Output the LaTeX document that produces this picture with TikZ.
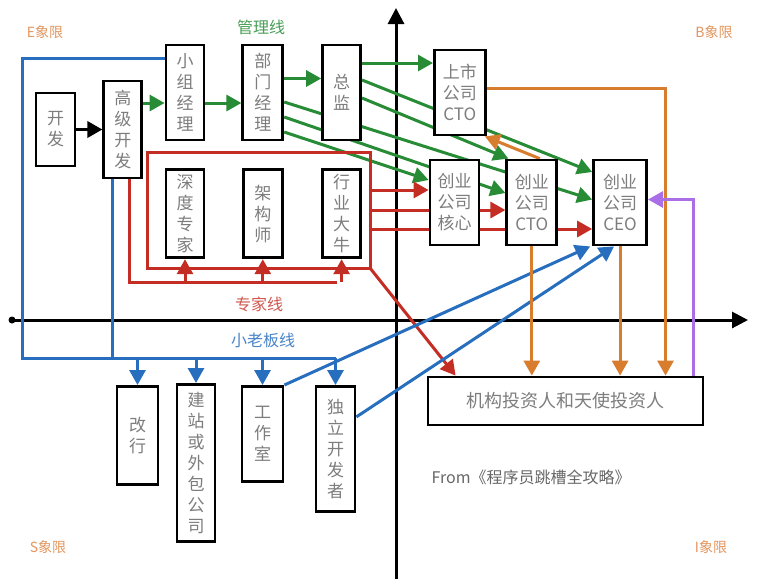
\documentclass[tikz,border=0pt]{standalone}
\usepackage{fontspec}
\newfontfamily\cjk{Noto Sans CJK SC}
\usepackage{tikz}
\usetikzlibrary{arrows.meta,positioning,calc}
\definecolor{mgreen}{RGB}{40,140,55}
\definecolor{xred}{RGB}{195,45,35}
\definecolor{bblue}{RGB}{40,110,190}
\definecolor{iorange}{RGB}{215,125,45}
\definecolor{vpurple}{RGB}{170,110,230}
\definecolor{qtan}{RGB}{225,150,95}
\definecolor{boxtext}{RGB}{125,125,125}
\pgfdeclarelayer{axes}
\pgfdeclarelayer{links}
\pgfsetlayers{axes,links,main}
\tikzset{
  >=Triangle,
  every node/.append style={font=\cjk},
}
\tikzset{
  box/.style={draw, fill=white, line width=2.8pt, align=center, inner sep=0pt,
              text=boxtext, font=\cjk\fontsize{17}{21}\selectfont},
  wire/.style={line width=3pt},
  arrow/.style={-{Triangle[length=15pt,width=16pt]}, line width=3pt}
}

\begin{document}
\begin{tikzpicture}[
  x=1pt, y=-1pt,
  cMgmt/.style  ={draw=mgreen, color=mgreen},
  cExpert/.style={draw=xred, color=xred},
  cBoss/.style  ={draw=bblue, color=bblue},
  cInv/.style   ={draw=iorange, color=iorange},
  cBack/.style  ={draw=vpurple, color=vpurple},
  axis/.style   ={-{Triangle[length=16pt,width=16pt]}, line width=3pt},
  quad/.style   ={text=qtan, font=\cjk\fontsize{14}{16}\selectfont},
  tag/.style    ={font=\cjk\fontsize{16}{18}\selectfont}
]
\useasboundingbox (0,0) rectangle (760,579);

% left: developer and management / expert ladders
\node[box, minimum width=39pt, minimum height=73pt] (kf) at (55.5,129.5) {开\\发};
\node[box, minimum width=38pt, minimum height=97pt, right=26pt of kf] (gjkf) {高\\级\\开\\发};
\node[box, minimum width=38pt, minimum height=95pt] (xzjl) at (185,92.5) {小\\组\\经\\理};
\node[box, minimum width=40pt, minimum height=95pt, right=36pt of xzjl] (bmjl) {部\\门\\经\\理};
\node[box, minimum width=38pt, minimum height=95pt, right=37pt of bmjl] (zj) {总\\监};
\node[box, minimum width=38pt, minimum height=88pt, below=27pt of xzjl] (sdzj) {深\\度\\专\\家};
\node[box, minimum width=39pt, minimum height=88pt, below=27pt of bmjl] (jgs) {架\\构\\师};
\node[box, minimum width=38pt, minimum height=88pt, below=27pt of zj] (hydn) {行\\业\\大\\牛};

% right: companies and investors
\node[box, minimum width=51pt, minimum height=85pt, right=71pt of zj] (sscto) {上市\\公司\\CTO};
\node[box, minimum width=49pt, minimum height=85pt] (cyhx) at (454.5,202.5) {创业\\公司\\核心};
\node[box, minimum width=50pt, minimum height=85pt, right=25pt of cyhx] (cycto) {创业\\公司\\CTO};
\node[box, minimum width=53pt, minimum height=85pt, right=34pt of cycto] (cyceo) {创业\\公司\\CEO};
\node[box, minimum width=275pt, minimum height=48pt, font=\cjk\fontsize{18}{20}\selectfont]
  (tzr) at (565.5,401) {机构投资人和天使投资人};

% bottom: own business
\node[box, minimum width=41pt, minimum height=98pt, anchor=north]  (gh)  at (137.5,385) {改\\行};
\node[box, minimum width=38pt, minimum height=157pt, anchor=north] (jz)  at (196,383)   {建\\站\\或\\外\\包\\公\\司};
\node[box, minimum width=41pt, minimum height=95pt, anchor=north]  (gzs) at (262.5,385) {工\\作\\室};
\node[box, minimum width=39pt, minimum height=125pt, anchor=north] (dl)  at (335.5,385) {独\\立\\开\\发\\者};

% labels
\node[quad] (eq) at (45,32)  {E象限};
\node[quad] (bq) at (714,32) {B象限};
\node[quad] (sq) at (48,547) {S象限};
\node[quad] (iq) at (711,547) {I象限};
\node[tag, text=mgreen!85!white] (glx)  at (261,27)  {管理线};
\node[tag, text=xred!80!white]   (zjx)  at (259,304) {专家线};
\node[tag, text=bblue!85!white]  (xlbx) at (263,340) {小老板线};
\node[tag, text=black!60, anchor=west] (src) at (428,477) {From《程序员跳槽全攻略》};

% axes
\begin{pgfonlayer}{axes}
\coordinate (xo) at (12,320);
\coordinate (xe) at (748,320);
\coordinate (yo) at (396,579);
\coordinate (ye) at (396,8);
\draw[axis] (xo) -- (xe);
\fill (xo) circle (3.5pt);
\draw[axis] (yo) -- (ye);
\end{pgfonlayer}

\begin{pgfonlayer}{links}
\draw[arrow, line width=3.4pt] (kf) -- (gjkf);

% management line
\draw[arrow, cMgmt] ([yshift=26.5pt]gjkf.east) -- ([yshift=-10.5pt]xzjl.west);
\draw[arrow, cMgmt] ([yshift=-10.5pt]xzjl.east) -- ([yshift=-10.5pt]bmjl.west);
\draw[arrow, cMgmt] ([yshift=14pt]bmjl.east) -- ([yshift=14pt]zj.west);
\draw[arrow, cMgmt] ([yshift=29.5pt]zj.east) -- ([yshift=29.5pt]sscto.west);
\draw[arrow, cMgmt] ([yshift=12.5pt]zj.east) -- ([yshift=30.5pt]cyceo.west);
\draw[arrow, cMgmt] ([yshift=-5.5pt]zj.east) -- ([xshift=3pt]cycto.north west);
\draw[arrow, cMgmt] ([yshift=-9.5pt]bmjl.east) -- ([yshift=3pt]cyceo.west);
\draw[arrow, cMgmt] ([yshift=-24.5pt]bmjl.east) -- ([yshift=9.5pt]cycto.west);
\draw[arrow, cMgmt] ([yshift=-39.5pt]bmjl.east) -- ([yshift=22.5pt]cyhx.west);

% expert line
\coordinate (rtl) at (147,152);
\coordinate (rtr) at (370,152);
\coordinate (rbr) at (370,268);
\coordinate (rbl) at (147,268);
\coordinate (rlow) at (337,282);
\draw[wire, cExpert] (rtl) -- (rtr) -- (rbr) -- (rbl) -- cycle;
\draw[wire, cExpert] ([xshift=7pt]gjkf.south) |- (rlow);
\foreach \b in {sdzj,jgs,hydn}{
  \draw[arrow, cExpert] (\b.south |- rlow) -- (\b.south);
}
\coordinate (r1) at (370,190);
\coordinate (r2) at (370,210);
\coordinate (r3) at (370,229);
\draw[arrow, cExpert] (r1) -- (r1 -| cyhx.west);
\draw[arrow, cExpert] (r2) -- (r2 -| cycto.west);
\draw[arrow, cExpert] (r3) -- (r3 -| cyceo.west);
\draw[arrow, cExpert] (rbr) -- ([xshift=29pt]tzr.north west);

% small boss line
\coordinate (bbl) at (22,358);
\coordinate (bsj) at (112,358);
\draw[wire, cBoss] ([yshift=34.5pt]xzjl.west) -| (bbl) -- (dl.north |- bbl);
\draw[wire, cBoss] (gjkf.south -| bsj) -- (bsj);
\foreach \b in {gh,jz,gzs,dl}{
  \draw[arrow, cBoss] (\b.north |- bbl) -- (\b.north);
}
\draw[arrow, cBoss] (gzs.north east) -- ([xshift=-2pt]cyceo.south west);
\draw[arrow, cBoss] ([yshift=32pt]dl.east) -- ([xshift=-6pt]cyceo.south);

% investors
\draw[arrow, cInv] ([yshift=4.5pt]sscto.east) -| ([xshift=100pt]tzr.north);
\draw[arrow, cInv] (cycto.south) -- (cycto.south |- tzr.north);
\draw[arrow, cInv] (cyceo.south) -- (cyceo.south |- tzr.north);
\draw[arrow, cInv] ([xshift=8pt]cycto.north) -- ([xshift=-2pt]sscto.south east);
\draw[arrow, cBack] ([xshift=-11pt]tzr.north east) |- ([yshift=3pt]cyceo.east);
\end{pgfonlayer}

\end{tikzpicture}
\end{document}
